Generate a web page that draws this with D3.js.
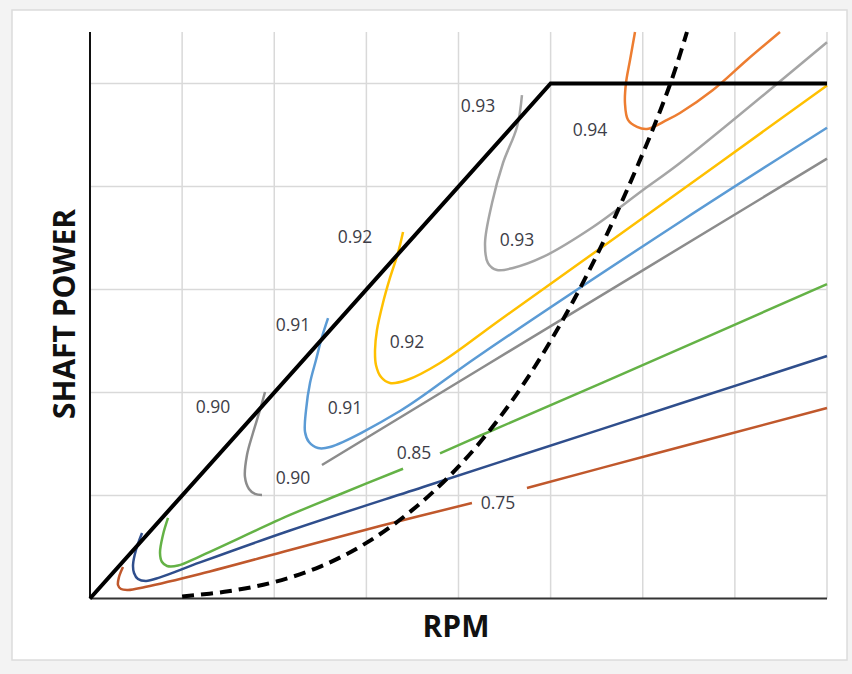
<!DOCTYPE html>
<html lang="en">
<head>
<meta charset="UTF-8">
<title>Shaft power vs RPM efficiency map</title>
<style>
  body { margin: 0; background: #f3f3f3; }
  svg { display: block; }
  .lbl { font-family: "Open Sans", sans-serif; font-size: 17.5px; fill: #3d3d48; }
  .title { font-family: "Open Sans", sans-serif; font-weight: 700; font-size: 30px; fill: #111; }
</style>
</head>
<body>
<div id="chart"></div>
<script src="https://d3js.org/d3.v7.min.js"></script>
<script>
// RPM / power in grid units (8 columns, 5.5 rows)
const gridX = [1, 2, 3, 4, 5, 6, 7, 8];
const gridY = [1, 2, 3, 4, 5];

// operating envelope
const envelope = [[0, 0], [5, 5], [8, 5]];

// propeller curve (dashed)
const propCurve = [[1.0, 0.02], [1.5, 0.07], [2.0, 0.16], [2.5, 0.31], [3.0, 0.54], [3.5, 0.86],
  [4.0, 1.28], [4.5, 1.82], [5.0, 2.5], [5.5, 3.33], [6.0, 4.32], [6.3, 5.0], [6.48, 5.5]];

// efficiency contours, null = gap for label
const c075 = [[0.358, 0.306], [0.315, 0.209], [0.304, 0.131], [0.337, 0.092], [0.412, 0.083], [0.597, 0.112],
  [1.194, 0.238], [2.171, 0.471], [3.148, 0.704], [4.146, 0.927], null,
  [4.743, 1.073], [6.079, 1.393], [8.0, 1.85]];
const c080 = [[0.565, 0.636], [0.499, 0.471], [0.467, 0.325], [0.478, 0.248], [0.521, 0.189], [0.608, 0.170],
  [0.760, 0.205], [1.194, 0.35], [2.171, 0.66], [3.658, 1.095], [5.536, 1.64], [8.0, 2.354]];
const c085 = [[0.847, 0.782], [0.792, 0.617], [0.760, 0.442], [0.782, 0.354], [0.836, 0.316], [0.955, 0.32],
  [1.194, 0.41], [2.171, 0.811], [2.681, 1.0], [3.398, 1.26], null,
  [3.799, 1.41], [4.233, 1.58], [5.677, 2.14], [8.0, 3.053]];
const c090 = [[1.9, 2.005], [1.845, 1.830], [1.769, 1.607], [1.704, 1.393], [1.682, 1.180], [1.726, 1.063],
  [1.791, 1.015], [1.867, 1.005], null,
  [2.518, 1.296], [4.233, 2.228], [8.0, 4.27]];
const c091 = [[2.584, 2.723], [2.518, 2.539], [2.453, 2.316], [2.388, 2.092], [2.345, 1.830], [2.334, 1.617],
  [2.377, 1.519], [2.475, 1.461], [2.605, 1.471], [3.365, 1.820], [4.201, 2.345], [6.437, 3.675], [8.0, 4.57]];
const c092 = [[3.398, 3.558], [3.343, 3.354], [3.256, 3.112], [3.180, 2.869], [3.115, 2.607], [3.094, 2.413],
  [3.104, 2.267], [3.159, 2.150], [3.256, 2.092], [3.441, 2.121], [3.799, 2.286], [4.450, 2.704],
  [5.970, 3.675], [8.0, 4.98]];
const c093 = [[4.689, 4.888], [4.635, 4.578], [4.483, 4.228], [4.364, 3.840], [4.288, 3.451], [4.320, 3.257],
  [4.418, 3.189], [4.592, 3.209], [4.917, 3.316], [5.460, 3.607], [6.003, 3.966], [6.404, 4.228], [8.0, 5.4]];
const c094 = [[5.916, 5.5], [5.862, 5.228], [5.818, 5.005], [5.807, 4.811], [5.840, 4.646], [5.938, 4.578],
  [6.046, 4.558], [6.264, 4.646], [6.404, 4.714], [6.762, 4.937], [7.131, 5.228], [7.490, 5.5]];

const contours = [
  { pts: c075, color: "#c0582c" },
  { pts: c080, color: "#2f4e8c" },
  { pts: c085, color: "#64b246" },
  { pts: c090, color: "#8c8c8c" },
  { pts: c091, color: "#5b9bd5" },
  { pts: c092, color: "#ffc000" },
  { pts: c093, color: "#a5a5a5" },
  { pts: c094, color: "#ed7d31" }
];

const labelText = ["0.93", "0.94", "0.92", "0.93", "0.91", "0.92", "0.90", "0.91", "0.90", "0.85", "0.75"];
const labelPos = [[4.212, 4.782], [5.427, 4.549], [2.876, 3.510], [4.635, 3.481], [2.204, 2.655],
  [3.441, 2.490], [1.335, 1.859], [2.768, 1.850], [2.204, 1.170], [3.517, 1.413], [4.429, 0.927]];

const width = 852, height = 674;
const margin = { left: 90, right: 25, top: 32, bottom: 75.5 };

const svg = d3.select("#chart").append("svg")
  .attr("width", width)
  .attr("height", height);

// frame
svg.append("rect")
  .attr("x", 12).attr("y", 10)
  .attr("width", 835).attr("height", 650)
  .attr("fill", "#fff")
  .attr("stroke", "#dcdcdc")
  .attr("stroke-width", 1.5);

const x = d3.scaleLinear().domain([0, 8]).range([margin.left, width - margin.right]);
const y = d3.scaleLinear().domain([0, 5.5]).range([height - margin.bottom, margin.top]);

// grid
svg.append("g")
  .selectAll("line")
  .data(gridX)
  .join("line")
  .attr("x1", d => x(d)).attr("x2", d => x(d))
  .attr("y1", y(0)).attr("y2", y(5.5))
  .attr("stroke", "#d9d9d9")
  .attr("stroke-width", 1.5);

svg.append("g")
  .selectAll("line")
  .data(gridY)
  .join("line")
  .attr("x1", x(0)).attr("x2", x(8))
  .attr("y1", d => y(d)).attr("y2", d => y(d))
  .attr("stroke", "#d9d9d9")
  .attr("stroke-width", 1.5);

// axes
svg.append("line")
  .attr("x1", x(0)).attr("x2", x(0))
  .attr("y1", y(0)).attr("y2", y(5.5))
  .attr("stroke", "#111").attr("stroke-width", 2);
svg.append("line")
  .attr("x1", x(0)).attr("x2", x(8))
  .attr("y1", y(0)).attr("y2", y(0))
  .attr("stroke", "#333").attr("stroke-width", 2);

const line = d3.line()
  .defined(d => d)
  .x(d => x(d[0]))
  .y(d => y(d[1]))
  .curve(d3.curveCatmullRom.alpha(0.5));

svg.append("g")
  .attr("fill", "none")
  .attr("stroke-width", 2.5)
  .attr("stroke-linecap", "butt")
  .selectAll("path")
  .data(contours)
  .join("path")
  .attr("stroke", d => d.color)
  .attr("d", d => line(d.pts));

// envelope
svg.append("path")
  .attr("d", d3.line().x(d => x(d[0])).y(d => y(d[1]))(envelope))
  .attr("fill", "none")
  .attr("stroke", "#000")
  .attr("stroke-width", 4);

// propeller curve
svg.append("path")
  .attr("d", line(propCurve))
  .attr("fill", "none")
  .attr("stroke", "#000")
  .attr("stroke-width", 4)
  .attr("stroke-dasharray", "12,7");

svg.append("g")
  .selectAll("text")
  .data(labelText)
  .join("text")
  .attr("class", "lbl")
  .attr("x", (d, i) => x(labelPos[i][0]))
  .attr("y", (d, i) => y(labelPos[i][1]))
  .attr("dy", "0.35em")
  .attr("text-anchor", "middle")
  .text(d => d);

svg.append("text")
  .attr("class", "title")
  .attr("x", 456)
  .attr("y", 626)
  .attr("dy", "0.35em")
  .attr("text-anchor", "middle")
  .text("RPM");

svg.append("text")
  .attr("class", "title")
  .attr("transform", "translate(64,314) rotate(-90)")
  .attr("dy", "0.35em")
  .attr("text-anchor", "middle")
  .text("SHAFT POWER");
</script>
</body>
</html>
